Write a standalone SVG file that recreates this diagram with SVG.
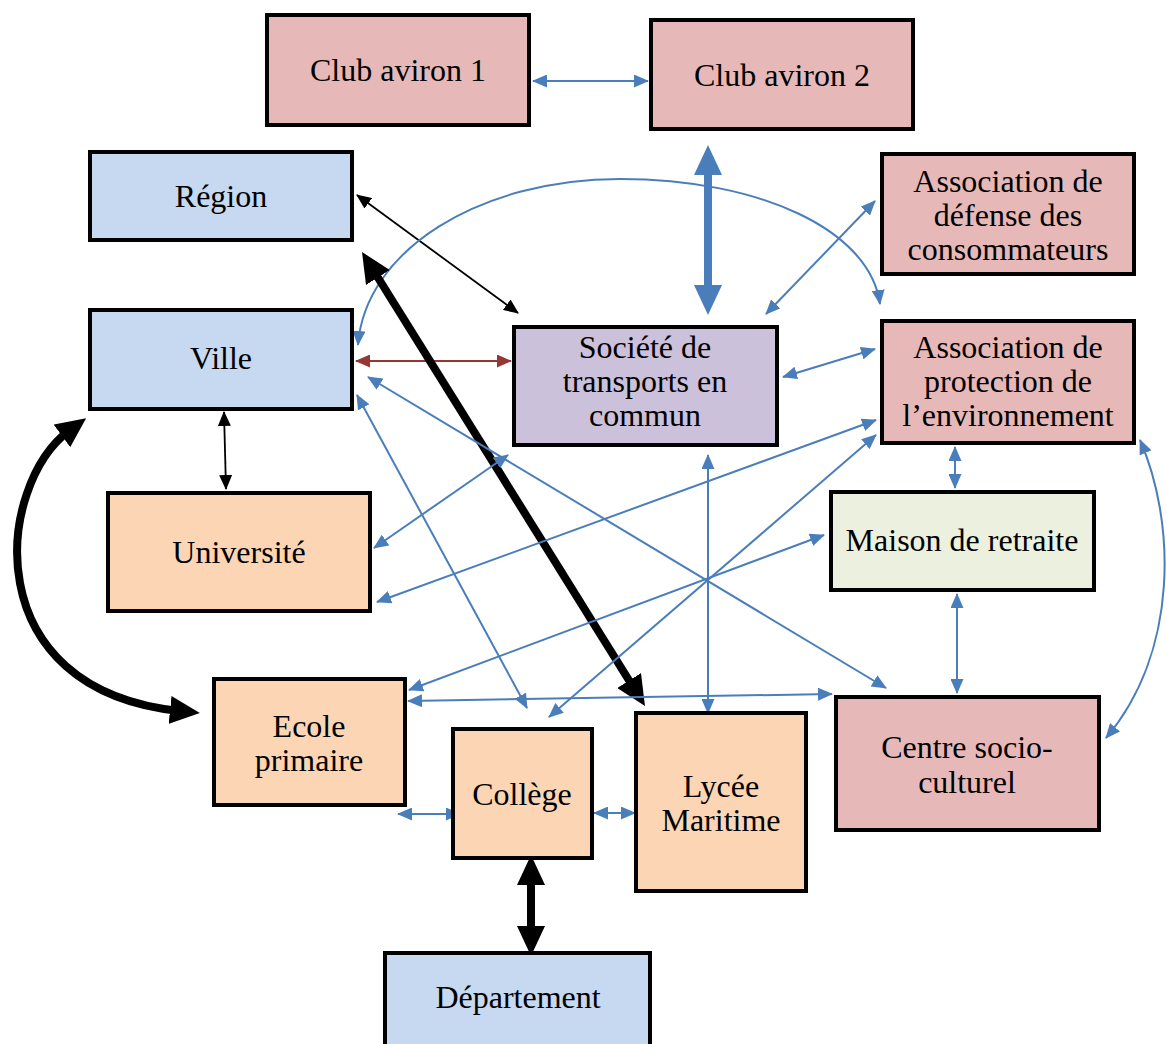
<svg xmlns="http://www.w3.org/2000/svg" width="1167" height="1044" viewBox="0 0 1167 1044">
<style>
.n rect{stroke:#000;stroke-width:4}
.n text{font-family:'Liberation Serif','Tinos','Times New Roman','DejaVu Serif',serif;font-size:32px;text-anchor:middle;fill:#000}
.pink{fill:#e6b9b8}.blue{fill:#c6d9f1}.purple{fill:#ccc1da}.green{fill:#ebf1de}.peach{fill:#fcd5b5}
.b{stroke:#4a7ebb;stroke-width:2;fill:none;marker-start:url(#ab);marker-end:url(#ab)}
.k{stroke:#000;stroke-width:1.8;fill:none;marker-start:url(#ak);marker-end:url(#ak)}
.r{stroke:#953735;stroke-width:2;fill:none;marker-start:url(#ar);marker-end:url(#ar)}
.bB{stroke:#4a7ebb;stroke-width:8;fill:none;marker-start:url(#abB);marker-end:url(#abB)}
.kB{stroke:#000;stroke-width:8;fill:none;marker-start:url(#akB);marker-end:url(#akB)}
</style>
<defs>
<marker id="ab" markerUnits="userSpaceOnUse" markerWidth="15" markerHeight="13" refX="14" refY="6.5" orient="auto-start-reverse"><path d="M0,0 L15,6.5 L0,13 z" fill="#4a7ebb"/></marker>
<marker id="ak" markerUnits="userSpaceOnUse" markerWidth="15" markerHeight="13" refX="14" refY="6.5" orient="auto-start-reverse"><path d="M0,0 L15,6.5 L0,13 z" fill="#000"/></marker>
<marker id="ar" markerUnits="userSpaceOnUse" markerWidth="15" markerHeight="13" refX="14" refY="6.5" orient="auto-start-reverse"><path d="M0,0 L15,6.5 L0,13 z" fill="#953735"/></marker>
<marker id="abB" markerUnits="userSpaceOnUse" markerWidth="30" markerHeight="28" refX="10" refY="14" orient="auto-start-reverse"><path d="M0,0 L30,14 L0,28 z" fill="#4a7ebb"/></marker>
<marker id="akB" markerUnits="userSpaceOnUse" markerWidth="30" markerHeight="28" refX="10" refY="14" orient="auto-start-reverse"><path d="M0,0 L30,14 L0,28 z" fill="#000"/></marker>
</defs>
<rect width="1167" height="1044" fill="#fff"/>
<g id="connectors">
<path class="b" d="M533,81 L648,81"/>
<path class="bB" d="M708,165 L708,295"/>
<path class="k" d="M357,195 L518,313"/>
<path class="b" d="M358,345 C365,250 480,179 620,179 C760,179 870,230 880,304"/>
<path class="b" d="M766,314 L875,201"/>
<path class="r" d="M356,361 L511,361"/>
<path class="b" d="M783,377 L875,349"/>
<path class="kB" d="M372.6,269 L634.4,689"/>
<path class="k" d="M224,412 L226,489"/>
<path class="kB" d="M70,430 C-5,485 -25,690 180,711"/>
<path class="b" d="M368,377 L886,688"/>
<path class="b" d="M357,395 L527,708"/>
<path class="b" d="M508,455 L374,548"/>
<path class="b" d="M876,420 L377,602"/>
<path class="b" d="M876,435 L549,717"/>
<path class="b" d="M824,535 L409,690"/>
<path class="b" d="M708,455 L708,713"/>
<path class="b" d="M408,701 L832,694"/>
<path class="b" d="M955,447 L955,488"/>
<path class="b" d="M957,594 L957,693"/>
<path class="b" d="M1140,440 C1175,520 1180,650 1106,738"/>
<path class="b" d="M398,814 L460,814"/>
<path class="b" d="M594,813 L635,813"/>
<path class="kB" d="M531,875 L531,936"/>
</g>
<g id="club1" class="n"><rect class="pink" x="267" y="15" width="262" height="110"/><text x="398" y="81">Club aviron 1</text></g>
<g id="club2" class="n"><rect class="pink" x="651" y="20" width="262" height="109"/><text x="782" y="86">Club aviron 2</text></g>
<g id="region" class="n"><rect class="blue" x="90" y="152" width="262" height="88"/><text x="221" y="207">Région</text></g>
<g id="assoc-defense" class="n"><rect class="pink" x="882" y="154" width="252" height="120"/><text x="1008" y="192">Association de</text><text x="1008" y="226">défense des</text><text x="1008" y="260">consommateurs</text></g>
<g id="ville" class="n"><rect class="blue" x="90" y="310" width="262" height="99"/><text x="221" y="369">Ville</text></g>
<g id="societe" class="n"><rect class="purple" x="514" y="327" width="263" height="118"/><text x="645" y="358">Société de</text><text x="645" y="392">transports en</text><text x="645" y="426">commun</text></g>
<g id="assoc-env" class="n"><rect class="pink" x="882" y="321" width="252" height="122"/><text x="1008" y="358">Association de</text><text x="1008" y="392">protection de</text><text x="1008" y="426">l’environnement</text></g>
<g id="maison" class="n"><rect class="green" x="831" y="492" width="263" height="98"/><text x="962" y="551">Maison de retraite</text></g>
<g id="universite" class="n"><rect class="peach" x="108" y="493" width="262" height="118"/><text x="239" y="563">Université</text></g>
<g id="ecole" class="n"><rect class="peach" x="214" y="679" width="191" height="126"/><text x="309" y="737">Ecole</text><text x="309" y="771">primaire</text></g>
<g id="centre" class="n"><rect class="pink" x="836" y="697" width="263" height="133"/><text x="967" y="758">Centre socio-</text><text x="967" y="793">culturel</text></g>
<g id="college" class="n"><rect class="peach" x="453" y="729" width="139" height="129"/><text x="522" y="805">Collège</text></g>
<g id="lycee" class="n"><rect class="peach" x="636" y="713" width="170" height="178"/><text x="721" y="797">Lycée</text><text x="721" y="831">Maritime</text></g>
<g id="departement" class="n"><rect class="blue" x="385" y="953" width="265" height="95"/><text x="518" y="1008">Département</text></g>
</svg>
